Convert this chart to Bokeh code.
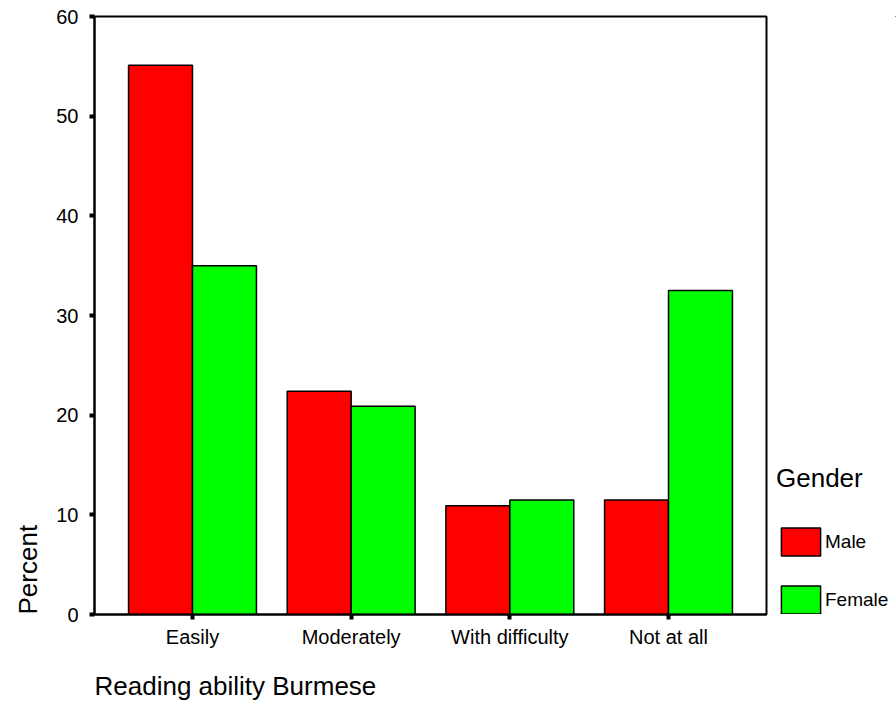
import math
from bokeh.plotting import figure
from bokeh.layouts import row
from bokeh.models import (FactorRange, Range1d, FixedTicker, Legend, LegendItem,
                          Title, ColumnDataSource)
from bokeh.transform import dodge
from bokeh.embed import file_html
from bokeh.resources import INLINE

categories = ["Easily", "Moderately", "With difficulty", "Not at all"]
male = [55.1, 22.4, 10.9, 11.5]
female = [35.0, 20.9, 11.5, 32.5]
y_ticks = [0, 10, 20, 30, 40, 50, 60]
series_names = ["Male", "Female"]
series_colors = ["#FF0000", "#00FF00"]

FONT = "Liberation Sans"

src = ColumnDataSource(data=dict(cat=categories, male=male, female=female))

p = figure(x_range=FactorRange(factors=categories, range_padding=0.0588,
                               range_padding_units="percent"),
           y_range=Range1d(0, 60),
           output_backend="svg", toolbar_location=None, tools="")
p.frame_width = 672
p.frame_height = 598
p.min_border_left = 94
p.min_border_top = 16
p.min_border_right = 2
p.min_border_bottom = 105

bw = 0.403
r_m = p.vbar(x=dodge("cat", -bw / 2, range=p.x_range), top="male", width=bw, source=src,
             fill_color=series_colors[0], line_color="black", line_width=1.5)
r_f = p.vbar(x=dodge("cat", bw / 2, range=p.x_range), top="female", width=bw, source=src,
             fill_color=series_colors[1], line_color="black", line_width=1.5)

p.xgrid.visible = False
p.ygrid.visible = False
p.outline_line_color = "black"
p.outline_line_width = 2
p.background_fill_color = "white"
p.border_fill_color = "white"

for ax in (p.xaxis[0], p.yaxis[0]):
    ax.axis_line_color = "black"
    ax.axis_line_width = 2
    ax.major_tick_out = 5
    ax.major_tick_in = 0
    ax.major_tick_line_width = 4
    ax.major_tick_line_color = "black"
    ax.minor_tick_line_color = None
    ax.major_label_text_font = FONT
    ax.major_label_text_font_size = "20px"
    ax.major_label_text_color = "black"

p.yaxis[0].ticker = FixedTicker(ticks=y_ticks)
p.yaxis[0].major_label_standoff = 11
p.xaxis[0].major_label_standoff = 6

# axis titles placed like the original (start aligned)
p.add_layout(Title(text="Percent", align="left", standoff=21,
                   text_font=FONT, text_font_size="26px",
                   text_font_style="normal", text_color="black"), "left")
p.add_layout(Title(text="Reading ability Burmese", align="left", standoff=37,
                   text_font=FONT, text_font_size="26px",
                   text_font_style="normal", text_color="black"), "below")

# legend panel to the right of the chart (its frame is aligned with the chart's)
lf = figure(width=128, height=719,
            x_range=FactorRange(factors=categories), y_range=Range1d(-2, -1),
            output_backend="svg", toolbar_location=None, tools="")
lf.min_border_left = 0
lf.min_border_right = 0
lf.min_border_top = 0
lf.min_border_bottom = 0
lf.axis.visible = False
lf.xgrid.visible = False
lf.ygrid.visible = False
lf.outline_line_color = None
lf.background_fill_color = "white"
lf.border_fill_color = "white"
# same series placed outside this panel's view: only their legend swatches show
lm = lf.vbar(x=dodge("cat", 10, range=lf.x_range), top="male", width=0.4, source=src,
             fill_color=series_colors[0], line_color="black", line_width=1.5)
lfe = lf.vbar(x=dodge("cat", 10, range=lf.x_range), top="female", width=0.4, source=src,
              fill_color=series_colors[1], line_color="black", line_width=1.5)

legend = Legend(items=[LegendItem(label=series_names[0], renderers=[lm]),
                       LegendItem(label=series_names[1], renderers=[lfe])],
                title="Gender", location=(8, -3))
legend.border_line_color = None
legend.background_fill_alpha = 0
legend.padding = 0
legend.margin = 0
legend.glyph_width = 49
legend.glyph_height = 35
legend.spacing = 23
legend.label_standoff = 0
legend.label_text_font = FONT
legend.label_text_font_size = "19px"
legend.label_text_color = "black"
legend.title_text_font = FONT
legend.title_text_font_size = "26px"
legend.title_text_font_style = "normal"
legend.title_text_color = "black"
legend.title_standoff = 30
lf.add_layout(legend)

layout = row(p, lf)
open("out.html", "w").write(file_html(layout, INLINE))
